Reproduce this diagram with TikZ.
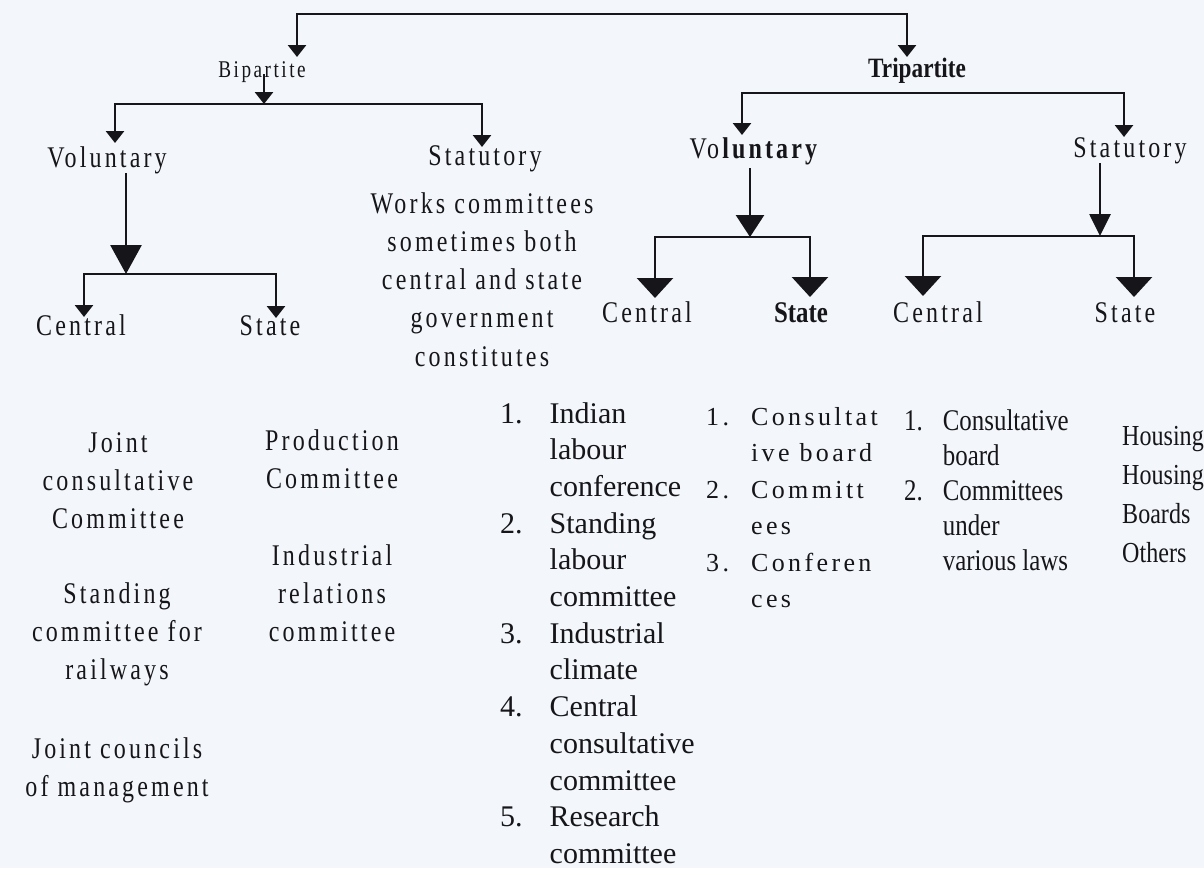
\documentclass[tikz,border=0pt]{standalone}
\usepackage{fontspec}
\setmainfont{Liberation Serif}
\newfontfamily\spf[LetterSpace=10.5,FakeStretch=0.8]{Liberation Serif}
\newfontfamily\spg[LetterSpace=13]{Liberation Serif}
\newfontfamily\cdf[FakeStretch=0.83]{Liberation Serif}
\usetikzlibrary{arrows.meta}
\definecolor{paper}{RGB}{243,246,250}
\definecolor{ink}{RGB}{22,22,26}
\newcommand{\cl}[1]{\begin{tabular}[t]{@{}c@{}}#1\end{tabular}}
\tikzset{
  Ts/.tip={Triangle[width=18pt,length=12pt]},
  Tb1/.tip={Triangle[width=31pt,length=29pt]},
  Tb2/.tip={Triangle[width=28pt,length=22pt]},
  Tb3/.tip={Triangle[width=36pt,length=20pt]},
  Tm/.tip={Triangle[width=21pt,length=22pt]},
  conn/.style={draw=ink, line width=2.8pt},
  lbl/.style={inner sep=0pt, anchor=base, text=ink, font=\spf\fontsize{30}{38.3}\selectfont},
  lst/.style={inner sep=0pt, anchor=base west, text=ink},
}
\begin{document}
\begin{tikzpicture}[x=1pt,y=-1pt]
\fill[paper] (0,0) rectangle (1204,868);
\useasboundingbox (0,0) rectangle (1204,868);

% ---------- headings ----------
\node[lbl, font=\spf\fontsize{24}{28}\selectfont] (bip) at (262,77) {Bipartite};
\node[lbl, font=\cdf\bfseries\fontsize{28}{32}\selectfont] (tri) at (917,77) {Tripartite};

\node[lbl] (vol1) at (107,167) {Voluntary};
\node[lbl] (stat1) at (485,165) {Statutory};
\node[lbl] (cen1) at (81,335) {Central};
\node[lbl] (sta1) at (270,335) {State};
\node[lbl] (works) at (482,213) {\cl{Works committees\\sometimes both\\central and state\\government\\constitutes}};

\node[lbl] (vol2) at (755,158) {Vo\textbf{luntary}};
\node[lbl] (stat2) at (1130,157) {Statutory};
\node[lbl] (cen2) at (647,322) {Central};
\node[lbl, font=\cdf\bfseries\fontsize{30}{34}\selectfont] (sta2) at (801,322) {State};
\node[lbl] (cen3) at (938,322) {Central};
\node[lbl] (sta3) at (1125,322) {State};

% ---------- lists ----------
\node[lbl] (jcc) at (118,452) {\cl{Joint\\consultative\\Committee}};
\node[lbl] (scr) at (117,603) {\cl{Standing\\committee for\\railways}};
\node[lbl] (jcm) at (117,758) {\cl{Joint councils\\of management}};
\node[lbl] (prod) at (332,450) {\cl{Production\\Committee}};
\node[lbl] (irc) at (332,565) {\cl{Industrial\\relations\\committee}};

\node[lst, font=\fontsize{30}{36.7}\selectfont] (tl1) at (500,423) {%
\begin{tabular}[t]{@{}r@{\hspace{27pt}}l@{}}
1. & Indian\\ & labour\\ & conference\\
2. & Standing\\ & labour\\ & committee\\
3. & Industrial\\ & climate\\
4. & Central\\ & consultative\\ & committee\\
5. & Research\\ & committee
\end{tabular}};

\node[lst, font=\spg\fontsize{26}{36.5}\selectfont] (tl2) at (706,425) {%
\begin{tabular}[t]{@{}r@{\hspace{22pt}}l@{}}
1. & Consultat\\ & ive board\\
2. & Committ\\ & ees\\
3. & Conferen\\ & ces
\end{tabular}};

\node[lst, font=\cdf\fontsize{30}{35}\selectfont] (tl3) at (904,430) {%
\begin{tabular}[t]{@{}r@{\hspace{20pt}}l@{}}
1. & Consultative\\ & board\\
2. & Committees\\ & under\\ & various laws
\end{tabular}};

\node[lst, font=\cdf\fontsize{29}{39}\selectfont] (hous) at (1122,445) {%
\begin{tabular}[t]{@{}l@{}}Housing\\Housing\\Boards\\Others\end{tabular}};

% ---------- connector points ----------
\coordinate (bipIn) at (297,57);
\coordinate (triIn) at (907,57);
\coordinate (topbar) at (600,14);
\coordinate (bipOut) at (264,74);
\coordinate (bbar) at (264,104);
\coordinate (vol1In) at (115,143);
\coordinate (stat1In) at (482,147);
\coordinate (vol1Out) at (126,173);
\coordinate (vbar1) at (126,274);
\coordinate (cen1In) at (84,317);
\coordinate (sta1In) at (276,318);

\coordinate (tbar) at (933,93);
\coordinate (vol2In) at (742,135);
\coordinate (stat2In) at (1124,137);
\coordinate (vol2Out) at (750,168);
\coordinate (tvb) at (750,237);
\coordinate (cen2In) at (655,298);
\coordinate (sta2In) at (810,297);
\coordinate (stat2Out) at (1100,163);
\coordinate (tsb) at (1100,236);
\coordinate (cen3In) at (923,296);
\coordinate (sta3In) at (1134,297);

% ---------- connectors ----------
\draw[conn, Ts-Ts] (bipIn) |- (topbar) -| (triIn);
\draw[conn, -Ts] (bipOut) -- (bbar);
\draw[conn, Ts-Ts] (vol1In) |- (bbar) -| (stat1In);
\draw[conn, -Tb1] (vol1Out) -- (vbar1);
\draw[conn, Ts-Ts] (cen1In) |- (vbar1) -| (sta1In);

\draw[conn, Ts-Ts] (vol2In) |- (tbar) -| (stat2In);
\draw[conn, -Tb2] (vol2Out) -- (tvb);
\draw[conn, Tb3-Tb3] (cen2In) |- (tvb) -| (sta2In);
\draw[conn, -Tm] (stat2Out) -- (tsb);
\draw[conn, Tb3-Tb3] (cen3In) |- (tsb) -| (sta3In);
\end{tikzpicture}
\end{document}
